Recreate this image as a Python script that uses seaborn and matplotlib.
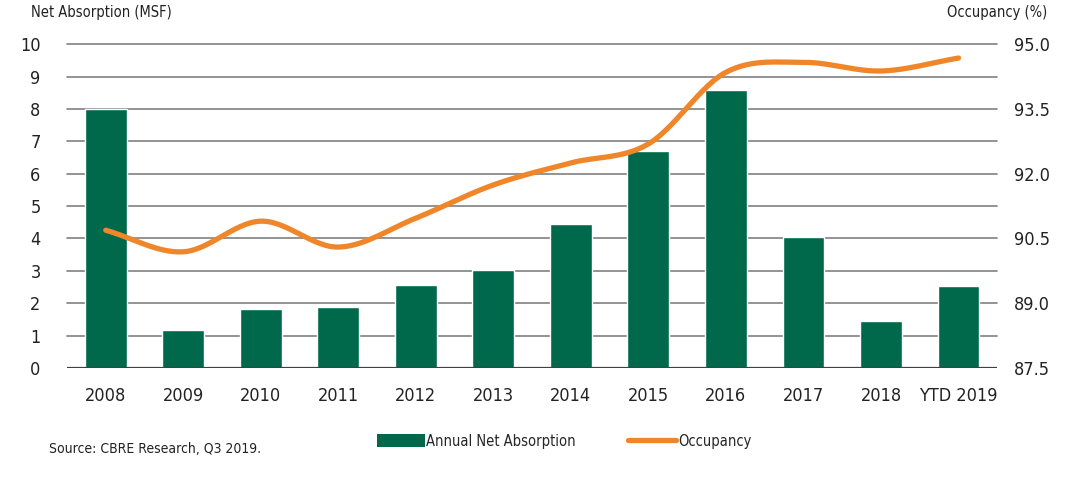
import numpy as np
import pandas as pd
import matplotlib
matplotlib.use("Agg")
import matplotlib.pyplot as plt
from matplotlib.patches import Patch
from matplotlib.lines import Line2D
import seaborn as sns

years = ['2008', '2009', '2010', '2011', '2012', '2013', '2014', '2015',
         '2016', '2017', '2018', 'YTD 2019']
net_absorption = [8.0, 1.17, 1.82, 1.88, 2.56, 3.02, 4.44, 6.70, 8.58, 4.04, 1.45, 2.53]
occupancy = [90.69, 90.19, 90.90, 90.30, 90.97, 91.74, 92.25, 92.69, 94.35, 94.58, 94.38, 94.68]

GREEN = '#00694B'
ORANGE = '#F0862A'
GRID = '#808080'


def catmull_rom(y, steps=30):
    # smooth curve through the points (for the drawn line only)
    y = np.asarray(y, dtype=float)
    p = np.concatenate([[2 * y[0] - y[1]], y, [2 * y[-1] - y[-2]]])
    xs, ys = [], []
    for i in range(len(y) - 1):
        t = np.linspace(0, 1, steps, endpoint=False)
        p0, p1, p2, p3 = p[i], p[i + 1], p[i + 2], p[i + 3]
        seg = 0.5 * ((2 * p1) + (-p0 + p2) * t + (2 * p0 - 5 * p1 + 4 * p2 - p3) * t ** 2
                     + (-p0 + 3 * p1 - 3 * p2 + p3) * t ** 3)
        xs.extend(i + t)
        ys.extend(seg)
    xs.append(len(y) - 1)
    ys.append(y[-1])
    return np.array(xs), np.array(ys)


sns.set_theme(style='white')
plt.rcParams['font.family'] = ['DejaVu Sans']
plt.rcParams['font.stretch'] = 'condensed'

fig = plt.figure(figsize=(10.7, 4.86), dpi=100)
ax = fig.add_axes([0.0626, 0.243, 0.8694, 0.666])

df = pd.DataFrame({'year': years, 'absorption': net_absorption})
sns.barplot(data=df, x='year', y='absorption', color=GREEN, saturation=1,
            width=0.54, ax=ax, zorder=3)

ax.set_ylim(0, 10)
ax.set_xlim(-0.5, 11.5)
ax.set_yticks(range(0, 11))
for v in range(1, 11):
    ax.axhline(v, color=GRID, lw=1.2, zorder=1, clip_on=False)
ax.axhline(0, color='#404040', lw=1.6, zorder=4)
for s in ax.spines.values():
    s.set_visible(False)
ax.set_xlabel('')
ax.set_ylabel('')
ax.tick_params(axis='both', length=0, labelsize=13, colors='#222222')
ax.tick_params(axis='x', pad=14)
ax.tick_params(axis='y', pad=19)

ax2 = ax.twinx()
ax2.set_ylim(87.5, 95.0)
ax2.set_yticks([87.5, 89.0, 90.5, 92.0, 93.5, 95.0])
ax2.set_yticklabels(['87.5', '89.0', '90.5', '92.0', '93.5', '95.0'])
ax2.tick_params(axis='y', length=0, labelsize=13, colors='#222222', pad=12)
for s in ax2.spines.values():
    s.set_visible(False)
ax2.grid(False)

sx, sy = catmull_rom(occupancy)
sns.lineplot(x=sx, y=sy, color=ORANGE, lw=3.8, ax=ax2, zorder=5)
ax2.set_ylabel('')
ax2.set_xlim(-0.5, 11.5)

fig.text(0.029, 0.965, 'Net Absorption (MSF)', fontsize=10.5, color='#222222')
fig.text(0.979, 0.965, 'Occupancy (%)', fontsize=10.5, color='#222222', ha='right')
fig.text(0.046, 0.068, 'Source: CBRE Research, Q3 2019.', fontsize=10, color='#222222')

handles = [Patch(facecolor=GREEN, edgecolor='none', label='Annual Net Absorption'),
           Line2D([0], [0], color=ORANGE, lw=3.8, label='Occupancy')]
fig.legend(handles=handles, loc='center', bbox_to_anchor=(0.527, 0.092), ncol=2,
           frameon=False, fontsize=10.5, handlelength=3.3, handleheight=1.0,
           handletextpad=0.1, columnspacing=3.6)

fig.savefig('out.png', dpi=100)
